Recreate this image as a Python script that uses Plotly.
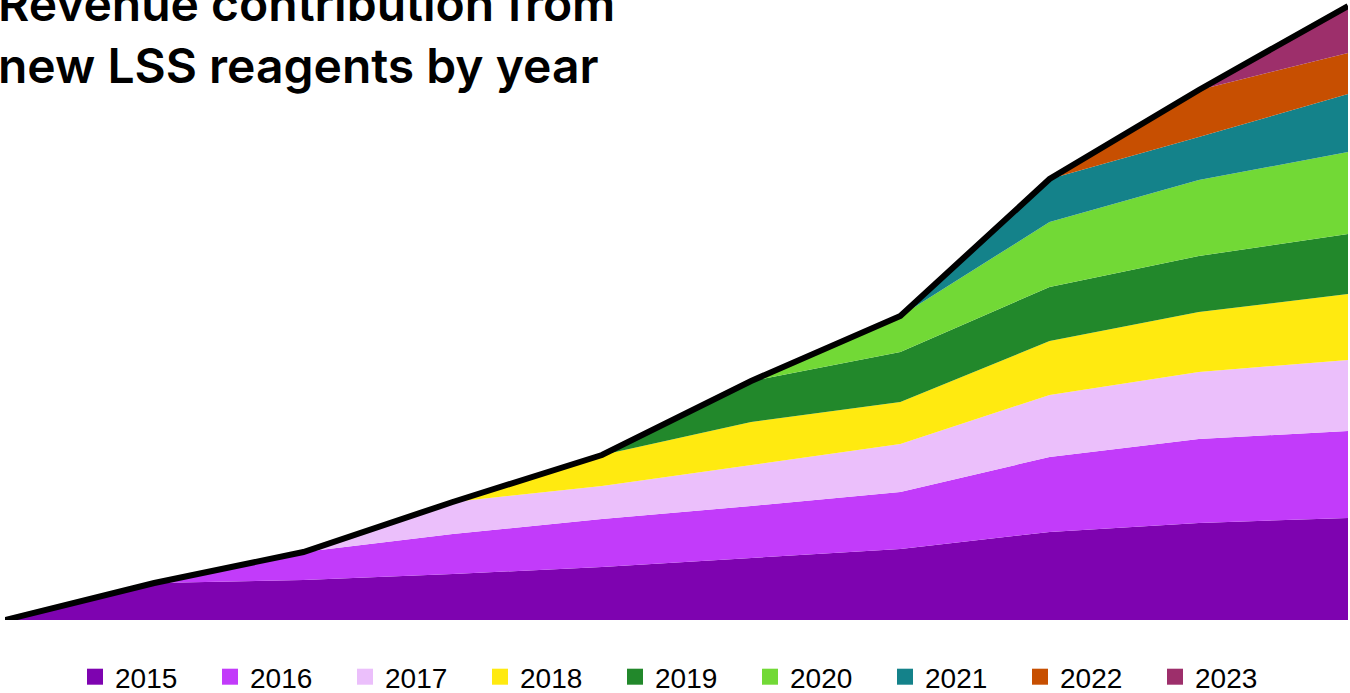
import plotly.graph_objects as go

years = [2014, 2015, 2016, 2017, 2018, 2019, 2020, 2021, 2022, 2023]
cohorts = ["2015", "2016", "2017", "2018", "2019", "2020", "2021", "2022", "2023"]

rev_2015 = [0, 37, 40, 46, 53, 62, 71, 88, 97, 102]
rev_2016 = [0, 0, 28, 40, 48, 52, 57, 75, 84, 87]
rev_2017 = [0, 0, 0, 32, 33, 41, 48, 62, 67, 71]
rev_2018 = [0, 0, 0, 0, 31, 43, 42, 54, 60, 66]
rev_2019 = [0, 0, 0, 0, 0, 41, 50, 54, 56, 60]
rev_2020 = [0, 0, 0, 0, 0, 0, 36, 65, 76, 82]
rev_2021 = [0, 0, 0, 0, 0, 0, 0, 43, 43, 58]
rev_2022 = [0, 0, 0, 0, 0, 0, 0, 0, 47, 41]
rev_2023 = [0, 0, 0, 0, 0, 0, 0, 0, 0, 47]

series = [rev_2015, rev_2016, rev_2017, rev_2018, rev_2019,
          rev_2020, rev_2021, rev_2022, rev_2023]
colors = ["#7E03B0", "#C23BFA", "#EBBFFB", "#FFEA10", "#22882B",
          "#72D936", "#14828A", "#C74F01", "#9D2F6B"]

total = [sum(v) for v in zip(*series)]

fig = go.Figure()
for name, vals, col in zip(cohorts, series, colors):
    fig.add_trace(go.Scatter(
        x=years, y=vals, name=name, stackgroup="rev", mode="lines",
        line=dict(width=0, color=col), fillcolor=col,
        legendgroup=name, showlegend=False, hoverinfo="x+y+name"))
    fig.add_trace(go.Scatter(
        x=[None], y=[None], name=name, mode="markers",
        marker=dict(symbol="square", size=18, color=col),
        legendgroup=name, showlegend=True))

fig.add_trace(go.Scatter(
    x=years, y=total, name="Total", mode="lines",
    line=dict(color="black", width=6), showlegend=False))

fig.add_annotation(
    text="Revenue contribution from<br>new LSS reagents by year",
    xref="paper", yref="paper", x=-9 / 1343, y=1 + 28 / 620,
    xanchor="left", yanchor="top", align="left", showarrow=False,
    font=dict(family="Inter", size=48, color="black", weight=600))

fig.update_layout(
    width=1350, height=693,
    margin=dict(l=5, r=2, t=0, b=73, autoexpand=False),
    paper_bgcolor="white", plot_bgcolor="white",
    showlegend=True,
    legend=dict(orientation="h", x=(75 - 5) / 1343, xanchor="left",
                y=-32 / 620, yanchor="top",
                entrywidth=90, entrywidthmode="pixels",
                font=dict(family="Liberation Sans, Arial, sans-serif",
                          size=28, color="black"),
                bgcolor="rgba(0,0,0,0)"),
    xaxis=dict(range=[2014, 2023], visible=False, showgrid=False, zeroline=False),
    yaxis=dict(range=[0, 620], visible=False, showgrid=False, zeroline=False),
)

fig.write_html("out.html")
